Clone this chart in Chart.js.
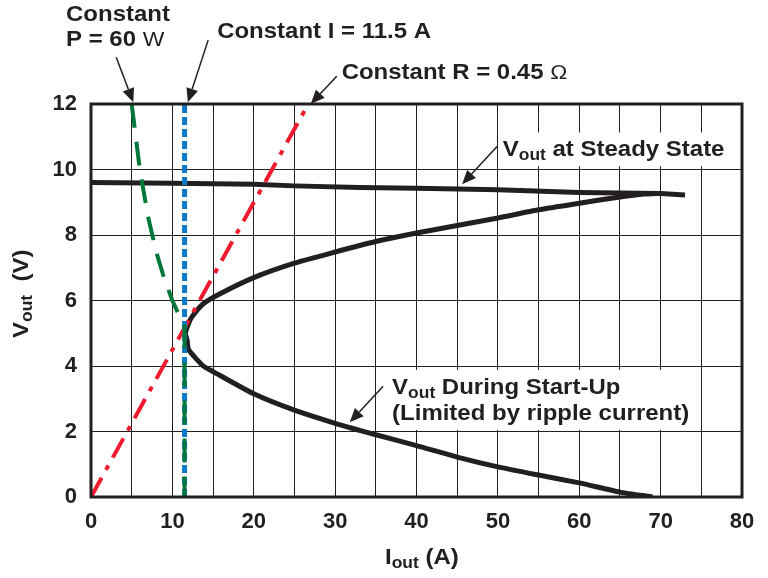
<!DOCTYPE html>
<html>
<head>
<meta charset="utf-8">
<script src="https://cdn.jsdelivr.net/npm/chart.js@4.4.1/dist/chart.umd.min.js"></script>
<style>
  html,body{margin:0;padding:0;background:#fff;}
  #wrap{width:768px;height:578px;position:relative;}
</style>
</head>
<body>
<div id="wrap"><canvas id="vChart" width="768" height="578"></canvas></div>
<script>
// V_out at steady state
let ssI=[0,10,20,25,33,40,50,60,70,73];
let ssV=[9.6,9.58,9.55,9.5,9.45,9.43,9.38,9.3,9.27,9.22];
// V_out during start-up (lower branch then upper branch)
let suI=[69,65,60,55,50,45,40,35,30,25,20,15,13.8,12,11.8,11.6,12,12.4,13.8,15.8,20,25,30,35,40,45,50,55,60,65,68,70];
let suV=[0,0.15,0.43,0.67,0.92,1.22,1.57,1.9,2.25,2.65,3.15,3.83,4.0,4.5,4.8,5.0,5.3,5.5,5.9,6.2,6.7,7.14,7.48,7.8,8.06,8.29,8.52,8.77,8.97,9.16,9.25,9.27];
// constant power 60 W
let pI=[5,6,7,8,9,10,11,11.5,11.5];
let pV=[12,10,8.57,7.5,6.67,6,5.45,5.2,0];
// constant current 11.5 A
let cI=[11.5,11.5];
let cV=[0,12];
// constant R 0.45 ohm
let rI=[0,26.7];
let rV=[0,12];

let xTicks=[0,10,20,30,40,50,60,70,80];
let yTicks=[0,2,4,6,8,10,12];

function pts(xs,ys){
  let out=[];
  for(let i=0;i<xs.length;i++){ out.push({x:xs[i],y:ys[i]}); }
  return out;
}

const FONT='"Liberation Sans", Arial, sans-serif';
const SX=1.09; // the original lettering is a bit wider than Liberation

function arrow(ctx,x1,y1,x2,y2){
  ctx.save();
  ctx.strokeStyle='#231f20';
  ctx.fillStyle='#231f20';
  ctx.lineWidth=1.5;
  let a=Math.atan2(y2-y1,x2-x1);
  let hl=14, hw=6;
  let bx=x2-hl*Math.cos(a), by=y2-hl*Math.sin(a);
  ctx.beginPath();
  ctx.moveTo(x1,y1);
  ctx.lineTo(bx,by);
  ctx.stroke();
  ctx.beginPath();
  ctx.moveTo(x2,y2);
  ctx.lineTo(bx+hw*Math.sin(a),by-hw*Math.cos(a));
  ctx.lineTo(bx-hw*Math.sin(a),by+hw*Math.cos(a));
  ctx.closePath();
  ctx.fill();
  ctx.restore();
}

// list of [text, font, dy] pieces written one after the other
function pieces(ctx,x,y,parts){
  ctx.save();
  ctx.translate(x,y);
  ctx.scale(SX,1);
  let w=0;
  for(let p of parts){
    ctx.font=p[1];
    ctx.fillText(p[0],w,p[2]||0);
    w+=ctx.measureText(p[0]).width;
  }
  ctx.restore();
  return w*SX;
}

const B='bold 22px '+FONT, S='bold 16px '+FONT, R='21px '+FONT;

const notes={
  id:'notes',
  afterDraw(chart){
    let ctx=chart.ctx;
    let xs=chart.scales.x, ys=chart.scales.y;
    let px=v=>xs.getPixelForValue(v), py=v=>ys.getPixelForValue(v);
    let ca=chart.chartArea;
    ctx.save();
    // frame
    ctx.strokeStyle='#231f20';
    ctx.lineWidth=3;
    ctx.strokeRect(ca.left,ca.top,ca.right-ca.left,ca.bottom-ca.top);

    ctx.fillStyle='#231f20';
    ctx.textBaseline='middle';
    ctx.textAlign='left';

    // Constant P
    pieces(ctx,px(-3.07),py(14.72),[['Constant',B]]);
    pieces(ctx,px(-3.07),py(13.95),[['P = 60 ',B],['W',R]]);
    arrow(ctx,px(3.1),py(13.43),px(5.2),py(12.05));

    // Constant I
    pieces(ctx,px(15.5),py(14.2),[['Constant I = 11.5 A',B]]);
    arrow(ctx,px(14.4),py(13.95),px(11.9),py(12.05));

    // Constant R
    pieces(ctx,px(30.8),py(12.95),[['Constant R = 0.45 ',B],['\u03A9',R]]);
    arrow(ctx,px(30.2),py(12.85),px(27.0),py(12.0));

    // steady state label with white box
    ctx.fillStyle='#fff';
    ctx.fillRect(px(50.3),py(11.13),px(78.3)-px(50.3),py(10.1)-py(11.13));
    ctx.fillStyle='#231f20';
    pieces(ctx,px(50.6),py(10.6),[['V',B],['out',S,6],[' at Steady State',B]]);
    arrow(ctx,px(49.9),py(10.7),px(45.6),py(9.55));

    // start-up label with white box
    ctx.fillStyle='#fff';
    ctx.fillRect(px(36.6),py(3.88),px(74)-px(36.6),py(2.05)-py(3.88));
    ctx.fillStyle='#231f20';
    pieces(ctx,px(37),py(3.33),[['V',B],['out',S,6],[' During Start-Up',B]]);
    pieces(ctx,px(37),py(2.55),[['(Limited by ripple current)',B]]);
    arrow(ctx,px(35.9),py(3.38),px(31.8),py(2.28));

    // axis titles
    pieces(ctx,385,558,[['I',B],['out',S,6],[' (A)',B]]);
    ctx.save();
    ctx.translate(22,338);
    ctx.rotate(-Math.PI/2);
    pieces(ctx,0,0,[['V',B],['out',S,6],['  (V)',B]]);
    ctx.restore();

    ctx.restore();
  }
};

let ctx=document.getElementById('vChart').getContext('2d');
let vChart=new Chart(ctx,{
  type:'scatter',
  data:{
    datasets:[
      {label:'Constant P = 60 W',data:pts(pI,pV),showLine:true,borderColor:'#00773a',borderWidth:4,borderDash:[24,14],pointRadius:0,order:0},
      {label:'Constant I = 11.5 A',data:pts(cI,cV),showLine:true,borderColor:'#0a78c8',borderWidth:5,borderDash:[8,4],pointRadius:0,order:1},
      {label:'Constant R = 0.45',data:pts(rI,rV),showLine:true,borderColor:'#ee1c2e',borderWidth:4,borderDash:[22,9,5,9],pointRadius:0,order:2},
      {label:'Vout at Steady State',data:pts(ssI,ssV),showLine:true,borderColor:'#231f20',borderWidth:5,pointRadius:0,order:3},
      {label:'Vout During Start-Up',data:pts(suI,suV),showLine:true,borderColor:'#231f20',borderWidth:5,pointRadius:0,tension:0.2,order:4}
    ]
  },
  options:{
    responsive:false,
    animation:false,
    layout:{padding:{left:0,top:104,right:26,bottom:0}},
    plugins:{legend:{display:false},tooltip:{enabled:false}},
    scales:{
      x:{
        type:'linear',min:0,max:80,
        afterFit(s){ s.height=81; },
        afterBuildTicks(s){
          let t=[];
          for(let v=0;v<=80;v+=5){ t.push({value:v}); }
          s.ticks=t;
        },
        ticks:{
          autoSkip:false,maxRotation:0,padding:12,color:'#231f20',
          font:{family:FONT,size:22,weight:'bold'},
          callback:v=>xTicks.includes(v)?String(v):''
        },
        grid:{color:'#231f20',lineWidth:1,drawTicks:false},
        border:{display:false}
      },
      y:{
        type:'linear',min:0,max:12,
        afterFit(s){ s.width=91; },
        afterBuildTicks(s){ s.ticks=yTicks.map(v=>({value:v})); },
        ticks:{
          padding:14,color:'#231f20',
          font:{family:FONT,size:22,weight:'bold'}
        },
        grid:{color:'#231f20',lineWidth:1,drawTicks:false},
        border:{display:false}
      }
    }
  },
  plugins:[notes]
});
</script>
</body>
</html>
